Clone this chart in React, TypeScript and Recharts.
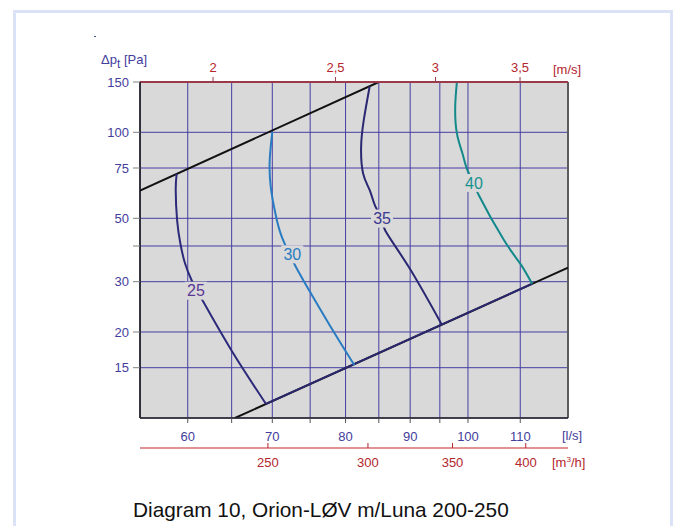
import React from 'react';
import {
  ComposedChart,
  Line,
  XAxis,
  YAxis,
  CartesianGrid,
  Scatter,
  ReferenceLine,
  Label,
} from 'recharts';

// ---------- data ----------
const flowTicks = [60, 65, 70, 75, 80, 85, 90, 95, 100, 110];
const flowLabels = [60, 70, 80, 90, 100, 110];
const pressureTicks = [15, 20, 30, 40, 50, 75, 100, 150];
const pressureLabels = [15, 20, 30, 50, 75, 100, 150];
const velocityTicks = [2, 2.5, 3, 3.5];
const volumeTicks = [250, 300, 350, 400];

const flowDomain = [55, 120];
const pressureDomain = [10, 150];
const velocityDivisor = 31.416; // l/s per m/s
const hourFactor = 3.6; // l/s -> m3/h
const velocityDomain = [flowDomain[0] / velocityDivisor, flowDomain[1] / velocityDivisor];
const volumeDomain = [flowDomain[0] * hourFactor, flowDomain[1] * hourFactor];
const velocityAxisData = velocityTicks.map((v) => ({ v }));
const volumeAxisData = volumeTicks.map((m) => ({ m }));

const systemUpper = [
  { q: 55, p: 62.5 },
  { q: 85, p: 150 },
];
const systemLower = [
  { q: 65.4, p: 10 },
  { q: 120, p: 33.6 },
];
const systemLowerSpan = [
  { q: 69.2, p: 11.2 },
  { q: 112.4, p: 29.5 },
];

const curve25 = [
  { q: 58.8, p: 71.5 },
  { q: 58.7, p: 62.7 },
  { q: 58.85, p: 49.2 },
  { q: 59.2, p: 40.8 },
  { q: 59.7, p: 34.8 },
  { q: 60.44, p: 30.3 },
  { q: 61.7, p: 25.6 },
  { q: 65.0, p: 17.2 },
  { q: 69.2, p: 11.2 },
];
const curve30 = [
  { q: 70, p: 100.4 },
  { q: 69.67, p: 79.9 },
  { q: 69.8, p: 64.4 },
  { q: 70.4, p: 51.9 },
  { q: 71.3, p: 42.5 },
  { q: 73.1, p: 33.7 },
  { q: 75.0, p: 27.6 },
  { q: 78.2, p: 20.2 },
  { q: 81.3, p: 15.3 },
];
const curve35 = [
  { q: 83.6, p: 145 },
  { q: 82.7, p: 110.4 },
  { q: 82.3, p: 88.9 },
  { q: 82.6, p: 71.8 },
  { q: 83.6, p: 62.7 },
  { q: 84.5, p: 54.8 },
  { q: 85.5, p: 49.9 },
  { q: 86.0, p: 45.3 },
  { q: 89.8, p: 33.7 },
  { q: 95.3, p: 21.3 },
];
const curve40 = [
  { q: 98.0, p: 150 },
  { q: 97.7, p: 122.8 },
  { q: 98.0, p: 99.1 },
  { q: 99.0, p: 84.3 },
  { q: 99.9, p: 73.7 },
  { q: 101.1, p: 66.5 },
  { q: 102.0, p: 60.2 },
  { q: 106.8, p: 41.9 },
  { q: 110.0, p: 34.7 },
  { q: 112.4, p: 29.5 },
];
const curveLabels = [
  { q: 60.9, p: 27.9, text: '25' },
  { q: 72.6, p: 37.4, text: '30' },
  { q: 85.5, p: 49.9, text: '35' },
  { q: 101.1, p: 66.5, text: '40' },
];

// ---------- styles ----------
const FONT = '"Liberation Sans", Arial, Helvetica, sans-serif';
const BLUE_TEXT = '#433d9c';
const RED_TEXT = '#b3262e';
const PLOT_BG = '#d9d9d9';
const labelColors: Record<string, string> = {
  '25': '#5b3894',
  '30': '#2a7cc2',
  '35': '#3b3790',
  '40': '#16918f',
};

const LabelShape = (props: any) => {
  const { cx, cy, payload } = props;
  if (cx == null || cy == null) return <g />;
  return (
    <g>
      <rect x={cx - 11} y={cy - 9} width={22} height={18} fill={PLOT_BG} />
      <text
        x={cx}
        y={cy}
        dy="0.36em"
        textAnchor="middle"
        fontSize={16}
        fontFamily={FONT}
        fill={labelColors[payload.text]}
      >
        {payload.text}
      </text>
    </g>
  );
};

const VolumeTick = (props: any) => {
  const { x, y, payload } = props;
  return (
    <g>
      <line x1={x} x2={x} y1={y - 5} y2={y} stroke={RED_TEXT} strokeWidth={1} />
      <text x={x} y={y + 19} textAnchor="middle" fontSize={13} fontFamily={FONT} fill={RED_TEXT}>
        {payload.value}
      </text>
    </g>
  );
};
const volumeTickEl = <VolumeTick />;

const flowFormatter = (v: number) => (flowLabels.includes(v) ? String(v) : '');
const pressureFormatter = (v: number) => (pressureLabels.includes(v) ? String(v) : '');
const velocityFormatter = (v: number) => String(v).replace('.', ',');

const flowUnit = (p: any) => {
  const vb = p.viewBox;
  return (
    <text x={vb.x + vb.width - 6} y={vb.y + 22} fontSize={13} fill={BLUE_TEXT} fontFamily={FONT}>
      [l/s]
    </text>
  );
};
const volumeUnit = (p: any) => {
  const vb = p.viewBox;
  return (
    <text x={vb.x + vb.width - 16} y={vb.y + 19} fontSize={13} fill={RED_TEXT} fontFamily={FONT}>
      [m<tspan dy={-5} fontSize={8}>3</tspan>
      <tspan dy={5}>/h]</tspan>
    </text>
  );
};
const velocityUnit = (p: any) => {
  const vb = p.viewBox;
  return (
    <text x={vb.x + vb.width - 15} y={vb.y + 22} fontSize={13} fill={RED_TEXT} fontFamily={FONT}>
      [m/s]
    </text>
  );
};
const pressureUnit = (p: any) => {
  const vb = p.viewBox;
  return (
    <text x={vb.x + vb.width - 39} y={vb.y - 18} fontSize={13} fill={BLUE_TEXT} fontFamily={FONT}>
      Δp<tspan dy={4} fontSize={12}>t</tspan>
      <tspan dy={-4}> [Pa]</tspan>
    </text>
  );
};

const flowAxisLine = { stroke: '#222', strokeWidth: 1.5 };
const flowTickLine = { stroke: '#555' };
const blueTick = { fill: BLUE_TEXT, fontSize: 13 };
const redTick = { fill: RED_TEXT, fontSize: 13 };
const volumeAxisLine = { stroke: '#c0282c', strokeWidth: 1.2 };
const velocityAxisLine = { stroke: '#9b3a4a', strokeWidth: 2 };
const velocityTickLine = { stroke: '#9b3a4a' };
const pressureAxisLine = { stroke: '#111', strokeWidth: 1.5 };
const pressureTickLine = { stroke: '#808080' };
const chartMargin = { top: 52, right: 112, bottom: 48, left: 60 };
const chartStyle = { fontFamily: FONT };

export default function App() {
  return (
    <div
      style={{
        position: 'absolute',
        left: 0,
        top: 0,
        width: 680,
        height: 526,
        overflow: 'hidden',
        background: '#fff',
        fontFamily: FONT,
      }}
    >
      <div
        style={{
          position: 'absolute',
          left: 13,
          top: 10,
          width: 654,
          height: 540,
          borderTop: '3px solid #dce2f5',
          borderLeft: '3px solid #dce2f5',
          borderRight: '3px solid #dce2f5',
        }}
      />
      <div
        style={{
          position: 'absolute',
          left: 94,
          top: 36,
          width: 2,
          height: 1,
          background: '#3a4a80',
        }}
      />
      <div style={{ position: 'absolute', left: 0, top: 0 }}>
        <ComposedChart width={680} height={526} margin={chartMargin} style={chartStyle}>
          <CartesianGrid
            xAxisId="a1"
            yAxisId="p"
            fill={PLOT_BG}
            fillOpacity={1}
            stroke="#463ea3"
            strokeWidth={1}
          />
          <XAxis
            xAxisId="a1"
            dataKey="q"
            type="number"
            scale="log"
            domain={flowDomain}
            allowDataOverflow
            ticks={flowTicks}
            interval={0}
            orientation="bottom"
            height={30}
            tickSize={5}
            tickMargin={9}
            axisLine={flowAxisLine}
            tickLine={flowTickLine}
            tick={blueTick}
            tickFormatter={flowFormatter}
          >
            <Label content={flowUnit} />
          </XAxis>
          <XAxis
            xAxisId="a2"
            dataKey="m"
            type="number"
            scale="log"
            domain={volumeDomain}
            allowDataOverflow
            ticks={volumeTicks}
            interval={0}
            orientation="bottom"
            height={30}
            tickSize={0}
            tickMargin={0}
            axisLine={volumeAxisLine}
            tickLine={false}
            tick={volumeTickEl}
          >
            <Label content={volumeUnit} />
          </XAxis>
          <XAxis
            xAxisId="a3"
            dataKey="v"
            type="number"
            scale="log"
            domain={velocityDomain}
            allowDataOverflow
            ticks={velocityTicks}
            interval={0}
            orientation="top"
            height={30}
            tickSize={5}
            tickMargin={5}
            axisLine={velocityAxisLine}
            tickLine={velocityTickLine}
            tick={redTick}
            tickFormatter={velocityFormatter}
          >
            <Label content={velocityUnit} />
          </XAxis>
          <YAxis
            yAxisId="p"
            type="number"
            scale="log"
            domain={pressureDomain}
            allowDataOverflow
            ticks={pressureTicks}
            interval={0}
            width={80}
            tickSize={7}
            tickMargin={4}
            axisLine={pressureAxisLine}
            tickLine={pressureTickLine}
            tick={blueTick}
            tickFormatter={pressureFormatter}
          >
            <Label content={pressureUnit} />
          </YAxis>
          <ReferenceLine
            xAxisId="a1"
            yAxisId="p"
            x={flowDomain[1]}
            stroke="#5c5c5c"
            strokeWidth={2}
          />
          <Line
            xAxisId="a2"
            yAxisId="p"
            data={volumeAxisData}
            dataKey="p"
            stroke="none"
            dot={false}
            legendType="none"
            isAnimationActive={false}
          />
          <Line
            xAxisId="a3"
            yAxisId="p"
            data={velocityAxisData}
            dataKey="p"
            stroke="none"
            dot={false}
            legendType="none"
            isAnimationActive={false}
          />
          <Line
            xAxisId="a1"
            yAxisId="p"
            data={systemUpper}
            dataKey="p"
            type="linear"
            stroke="#111"
            strokeWidth={2}
            dot={false}
            isAnimationActive={false}
          />
          <Line
            xAxisId="a1"
            yAxisId="p"
            data={systemLower}
            dataKey="p"
            type="linear"
            stroke="#111"
            strokeWidth={2}
            dot={false}
            isAnimationActive={false}
          />
          <Line
            xAxisId="a1"
            yAxisId="p"
            data={systemLowerSpan}
            dataKey="p"
            type="linear"
            stroke="#2b2870"
            strokeWidth={2}
            dot={false}
            isAnimationActive={false}
          />
          <Line
            xAxisId="a1"
            yAxisId="p"
            data={curve25}
            dataKey="p"
            type="natural"
            stroke="#2c2a7a"
            strokeWidth={2}
            dot={false}
            isAnimationActive={false}
          />
          <Line
            xAxisId="a1"
            yAxisId="p"
            data={curve30}
            dataKey="p"
            type="natural"
            stroke="#2a7cc2"
            strokeWidth={2}
            dot={false}
            isAnimationActive={false}
          />
          <Line
            xAxisId="a1"
            yAxisId="p"
            data={curve35}
            dataKey="p"
            type="natural"
            stroke="#2a2872"
            strokeWidth={2}
            dot={false}
            isAnimationActive={false}
          />
          <Line
            xAxisId="a1"
            yAxisId="p"
            data={curve40}
            dataKey="p"
            type="natural"
            stroke="#12898a"
            strokeWidth={2}
            dot={false}
            isAnimationActive={false}
          />
          <Scatter
            xAxisId="a1"
            yAxisId="p"
            data={curveLabels}
            dataKey="p"
            shape={LabelShape}
            isAnimationActive={false}
          />
        </ComposedChart>
      </div>
      <div
        style={{
          position: 'absolute',
          left: 133,
          top: 497,
          fontSize: 20.8,
          lineHeight: '26px',
          color: '#111',
          fontFamily: FONT,
          whiteSpace: 'nowrap',
        }}
      >
        Diagram 10, Orion-LØV m/Luna 200-250
      </div>
    </div>
  );
}
